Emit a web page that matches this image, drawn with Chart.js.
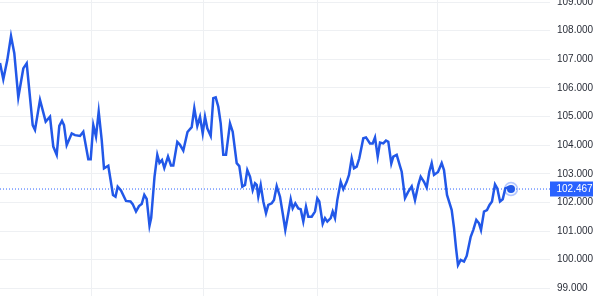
<!doctype html>
<html>
<head>
<title>Price line</title>
<script src="https://cdn.jsdelivr.net/npm/chart.js@4"></script>
<style>
	html, body { margin: 0; padding: 0; background: #fff; }
	#wrap { width: 600px; height: 296px; }
</style>
</head>
<body>
<div id="wrap"><canvas id="canvas"></canvas></div>
<script>
// session position (half-day units) and close price
var sessions = [
	0, 1.65, 3.65, 5.5, 7.15, 9.15, 11.65, 13.35, 16.35, 17.5,
	20, 22.85, 25, 26.65, 28.35, 29.65, 31, 32, 33.35, 35.85,
	37.5, 40, 41.65, 44.15, 45.35, 46.65, 48, 49.35, 50.85, 52,
	54.15, 56.5, 57.75, 58.85, 60.5, 63, 65.25, 66.35, 68, 69.5,
	70.85, 72.15, 73.35, 74.75, 75.6, 77.25, 78.65, 79.75, 81, 82.15,
	84, 85.5, 86.65, 88.65, 90, 91.65, 93.75, 95.85, 97.15, 98.65,
	100, 101.35, 102.5, 103.65, 105.35, 106.65, 107.85, 109.15, 110.35, 111.65,
	113, 115, 116.35, 118.35, 119.65, 121.15, 122.5, 123.65, 125, 126.35,
	127.5, 128.35, 129.15, 130.35, 131.65, 133, 134.15, 135.85, 137, 138.35,
	140, 141.35, 142.65, 144.15, 145.35, 146.35, 147.65, 149.15, 150.35, 151.65,
	153, 154.15, 155.85, 157.5, 158.65, 159.65, 161.35, 162.5, 163.65, 165.35,
	166.35, 167.5, 168.65, 170.35, 171.65, 173.35, 174.5, 175.85, 177, 178.35,
	179.65, 181.65, 183, 185, 186.35, 187.5, 188.85, 190, 191.65, 193,
	194.15, 195.65, 196.65, 198.35, 200, 200.85, 202.5, 204, 205.85, 207.5,
	209.15, 210.35, 212, 213.35, 214.65, 215.85, 217, 219, 220.85, 222,
	223.5, 225.85, 227, 228, 229, 230.35, 232, 233.35, 235.35, 236.65,
	238.15, 239.5, 240.5, 242, 243.5, 244.75, 246, 247.5, 248.65, 250,
	251.35, 252.65, 254.15, 255.5
];
var prices = [
	106.87, 106.30, 106.97, 107.81, 107.21, 105.67, 106.68, 106.86, 104.70, 104.53,
	105.58, 104.82, 104.99, 103.95, 103.66, 104.67, 104.85, 104.70, 104.00, 104.41,
	104.35, 104.32, 104.47, 103.51, 103.51, 104.70, 104.30, 105.17, 104.18, 103.19,
	103.28, 102.26, 102.20, 102.55, 102.42, 102.05, 102.03, 101.94, 101.68, 101.87,
	101.94, 102.26, 102.12, 101.19, 101.46, 102.89, 103.66, 103.38, 103.48, 103.20,
	103.60, 103.29, 103.29, 104.11, 104.01, 103.81, 104.46, 104.63, 105.29, 104.67,
	104.99, 104.41, 104.99, 104.59, 104.32, 105.64, 105.67, 105.34, 104.76, 103.66,
	103.66, 104.76, 104.47, 103.37, 103.27, 102.55, 102.61, 103.13, 102.90, 102.43,
	102.67, 102.61, 102.20, 102.61, 102.03, 101.62, 101.91, 101.97, 102.08, 102.57,
	102.20, 101.62, 101.04, 101.62, 102.11, 101.79, 101.97, 101.79, 101.76, 101.33,
	101.85, 101.50, 101.50, 101.68, 102.14, 102.03, 101.25, 101.45, 101.33, 101.45,
	101.68, 101.45, 102.08, 102.72, 102.46, 102.72, 102.96, 103.54, 103.19, 103.25,
	103.54, 104.24, 104.27, 104.06, 104.06, 104.27, 103.60, 104.09, 104.06, 104.16,
	104.12, 103.36, 103.60, 103.66, 103.27, 103.07, 102.15, 102.36, 102.56, 102.08,
	102.61, 102.90, 102.72, 102.52, 103.07, 103.37, 102.96, 103.06, 103.37, 103.13,
	102.26, 101.73, 101.11, 100.41, 99.81, 99.99, 99.93, 100.13, 100.80, 101.04,
	101.39, 101.27, 101.04, 101.68, 101.73, 101.91, 102.03, 102.63, 102.49, 102.03,
	102.11, 102.49, 102.53, 102.467
];
var yTicks = [99, 100, 101, 102, 103, 104, 105, 106, 107, 108, 109];
var yTickLabels = ['99.000', '100.000', '101.000', '102.000', '103.000', '104.000',
	'105.000', '106.000', '107.000', '108.000', '109.000'];
var monthStarts = [45.5, 101.5, 158.5, 218.5];

var blue = '#2258e8';
var lastIdx = prices.length - 1;
var lastPrice = prices[lastIdx];
var lastSession = sessions[lastIdx];

var lastLabel = {
	id: 'lastLabel',
	afterDraw: function(chart) {
		var ctx = chart.ctx;
		var y = chart.scales.y.getPixelForValue(lastPrice);
		var left = chart.chartArea.right;
		ctx.save();
		ctx.fillStyle = '#2962ff';
		ctx.fillRect(left, Math.round(y) - 7.5, 43, 15);
		ctx.fillStyle = '#ffffff';
		ctx.font = '10px "Liberation Sans", Arial, sans-serif';
		ctx.textBaseline = 'middle';
		ctx.textAlign = 'left';
		ctx.fillText(lastPrice.toFixed(3), left + 6.5, y + 0.5);
		ctx.restore();
	}
};

var config = {
	type: 'line',
	data: {
		datasets: [{
			data: sessions.map(function(s, i) { return {x: s, y: prices[i]}; }),
			borderColor: blue,
			borderWidth: 2.5,
			pointRadius: prices.map(function(p, i) { return i === lastIdx ? 4 : 0; }),
			pointBackgroundColor: blue,
			pointBorderWidth: 0,
			tension: 0,
			order: 1
		}, {
			data: [{x: lastSession, y: lastPrice}],
			showLine: false,
			pointRadius: 6.5,
			pointBackgroundColor: 'rgba(41, 98, 255, 0.06)',
			pointBorderColor: 'rgba(41, 98, 255, 0.35)',
			pointBorderWidth: 1.5,
			order: 2
		}, {
			data: [{x: 0, y: lastPrice}, {x: 275, y: lastPrice}],
			borderColor: '#2962ff',
			borderWidth: 1,
			borderDash: [1, 2],
			pointRadius: 0,
			order: 3
		}]
	},
	options: {
		responsive: true,
		maintainAspectRatio: false,
		animation: false,
		layout: { padding: 0, autoPadding: false },
		plugins: { legend: { display: false }, tooltip: { enabled: false } },
		scales: {
			x: {
				type: 'linear',
				min: 0,
				max: 275,
				grid: { color: '#eef0f3', drawTicks: false },
				border: { display: false },
				ticks: { display: false },
				afterBuildTicks: function(axis) {
					axis.ticks = monthStarts.map(function(v) { return {value: v}; });
				},
				afterFit: function(axis) { axis.height = 0; }
			},
			y: {
				position: 'right',
				min: 98.73,
				max: 109.07,
				grid: { color: '#eef0f3', drawTicks: false },
				border: { display: false },
				afterBuildTicks: function(axis) {
					axis.ticks = yTicks.map(function(v) { return {value: v}; });
				},
				afterFit: function(axis) {
					axis.width = 50;
					axis.paddingTop = 0;
					axis.paddingBottom = 0;
				},
				ticks: {
					padding: 7,
					color: '#2a2e39',
					font: { family: '"Liberation Sans", Arial, sans-serif', size: 10 },
					callback: function(value, index) { return yTickLabels[index]; }
				}
			}
		}
	},
	plugins: [lastLabel]
};

window.onload = function() {
	var ctx = document.getElementById('canvas').getContext('2d');
	window.myLine = new Chart(ctx, config);
};
</script>
</body>
</html>
